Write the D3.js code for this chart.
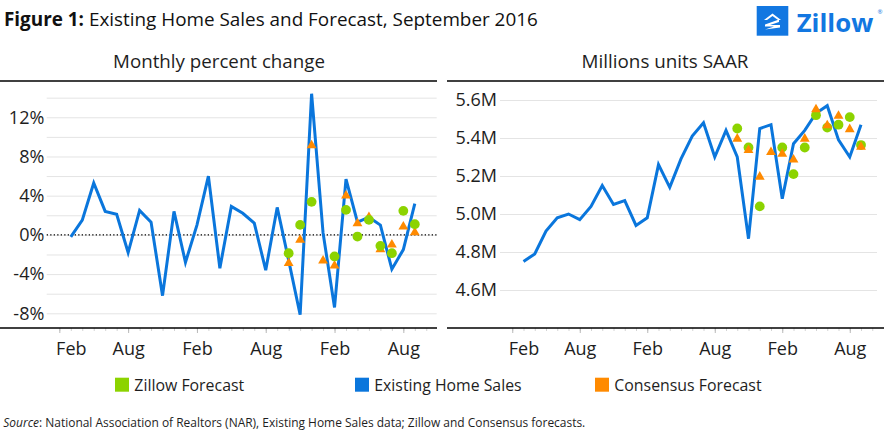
<!DOCTYPE html>
<html>
<head>
<meta charset="utf-8">
<script src="https://cdn.jsdelivr.net/npm/d3@7"></script>
<style>
  html, body { margin: 0; padding: 0; background: #fff; }
  svg { display: block; font-family: "Open Sans", sans-serif; }
</style>
</head>
<body>
<svg id="chart" width="884" height="434"></svg>
<script>
// ---------------- DATA ----------------
const monthIndex = d3.range(0, 31);           // 31 monthly observations
const tickMonths = [-1, 5, 11, 17, 23, 29];  // major tick positions (month index)
const tickLabels = ["Feb", "Aug", "Feb", "Aug", "Feb", "Aug"];

// Monthly percent change, existing home sales
const salesChange = [-0.2, 1.5, 5.3, 2.4, 2.1, -1.8, 2.5, 1.3, -6.2, 2.4, -2.8, 1.0, 6.0, -3.4, 2.9, 2.2,
  1.2, -3.6, 2.8, -2.6, -8.15, 14.4, 0.2, -7.4, 5.7, 1.3, 1.8, 1.0, -3.5, -1.5, 3.2];
// Zillow forecast of monthly percent change (months 19..30)
const zillowChange = [-1.87, 1.02, 3.37, null, -2.2, 2.55, -0.17, 1.53, -1.12, -1.87, 2.45, 1.09];
// Consensus forecast of monthly percent change (months 19..30)
const consensusChange = [-2.8, -0.44, 9.2, -2.55, -3.05, 4.08, 1.25, 1.9, -1.4, -0.92, 0.92, 0.34];

// Level, millions of units SAAR
const salesLevel = [4.75, 4.79, 4.91, 4.98, 5.00, 4.97, 5.04, 5.15, 5.05, 5.07, 4.94, 4.98, 5.26, 5.14, 5.29,
  5.41, 5.48, 5.30, 5.44, 5.30, 4.87, 5.45, 5.47, 5.08, 5.37, 5.44, 5.53, 5.57, 5.39, 5.30, 5.47];
const zillowLevel = [5.45, 5.35, 5.04, null, 5.35, 5.21, 5.35, 5.52, 5.455, 5.47, 5.51, 5.363];
const consensusLevel = [5.40, 5.34, 5.20, 5.33, 5.32, 5.29, 5.40, 5.555, 5.47, 5.52, 5.45, 5.357];
const forecastStart = 19;

const changeTicks = [-8, -4, 0, 4, 8, 12];
const levelTicks = [4.6, 4.8, 5.0, 5.2, 5.4, 5.6];

const legendItems = ["Zillow Forecast", "Existing Home Sales", "Consensus Forecast"];

// ---------------- STYLE ----------------
const BLUE = "#0a76dc", GREEN = "#8cd300", ORANGE = "#ff8a00", LOGO = "#1277e1";
const TEXT = "#1e1e1e";

const svg = d3.select("#chart");

function fitWidth(sel, w) {
  const n = sel.node();
  const cur = n.getComputedTextLength();
  const fs = parseFloat(sel.attr("font-size"));
  sel.attr("font-size", fs * w / cur);
}

// ---------------- TITLE + LOGO ----------------
const title = svg.append("text").attr("x", 4).attr("y", 26).attr("font-size", 18).attr("fill", "#111");
title.append("tspan").attr("font-weight", "bold").text("Figure 1:");
title.append("tspan").text(" Existing Home Sales and Forecast, September 2016");
fitWidth(title, 534);

const logo = svg.append("g");
logo.append("rect").attr("x", 756.7).attr("y", 6).attr("width", 31.6).attr("height", 29.7).attr("fill", LOGO);
logo.append("path")
  .attr("d", "M764,20 L772.5,13.5 L781,20 L778,20 L772.5,16 L767,20 Z M765,24.5 L779,19.5 L779,22 L770,25 L780,25 L780,27.5 L765,29.5 L774,26.5 L765,26.5 Z")
  .attr("fill", "#fff");
const ztxt = logo.append("text").attr("x", 796.7).attr("y", 31.7).attr("font-size", 30)
  .attr("font-weight", "bold").attr("fill", LOGO).text("Zillow");
fitWidth(ztxt, 76.6);
logo.append("text").attr("x", 877.5).attr("y", 14).attr("font-size", 6).attr("fill", LOGO).text("®");

// ---------------- PANEL BUILDER ----------------
function panel(cfg) {
  const g = svg.append("g");
  const x = d3.scaleLinear().domain([0, 30]).range(cfg.xRange);
  const y = d3.scaleLinear().domain(cfg.yDomain).range([328, 81]);

  // subtitle
  const st = g.append("text").attr("x", cfg.subX).attr("y", 68).attr("text-anchor", "middle")
    .attr("font-size", 18).attr("fill", TEXT).text(cfg.subtitle);
  fitWidth(st, cfg.subW);

  // gridlines
  const grid = g.append("g").attr("transform", `translate(${cfg.gridX0},0)`)
    .call(d3.axisLeft(y).tickValues(cfg.gridValues).tickSize(-(cfg.gridX1 - cfg.gridX0)).tickFormat(""));
  grid.select(".domain").remove();
  grid.selectAll("line").attr("stroke", "#e4e4e4").attr("stroke-width", 1);

  // y labels
  const ya = g.append("g").attr("transform", `translate(${cfg.gridX0},0)`)
    .call(d3.axisLeft(y).tickValues(cfg.yTicks).tickSize(0).tickPadding(cfg.yPad).tickFormat(cfg.yFormat));
  ya.select(".domain").remove();
  ya.selectAll("text").attr("font-size", 18).attr("font-family", "Open Sans").attr("fill", TEXT);

  // zero line
  if (cfg.zero) {
    g.append("line").attr("x1", cfg.gridX0).attr("x2", cfg.gridX1).attr("y1", y(0)).attr("y2", y(0))
      .attr("stroke", "#000").attr("stroke-width", 1.3).attr("stroke-dasharray", "1.3,2.2");
  }

  // minor ticks
  const minor = g.append("g").attr("transform", "translate(0,328)")
    .call(d3.axisBottom(x).tickValues(d3.range(-1, 32)).tickSize(3).tickFormat(""));
  minor.select(".domain").remove();
  minor.selectAll("line").attr("stroke", "#d4d4d4");
  // major ticks + labels
  const major = g.append("g").attr("transform", "translate(0,328)")
    .call(d3.axisBottom(x).tickValues(tickMonths).tickSize(5).tickPadding(9.2)
      .tickFormat((d, i) => tickLabels[i]));
  major.select(".domain").remove();
  major.selectAll("line").attr("stroke", "#b8b8b8");
  major.selectAll("text").attr("font-size", 18).attr("font-family", "Open Sans").attr("fill", TEXT)
    .attr("x", d => x(Math.max(d, 0)) - x(d));

  // frame lines
  g.append("line").attr("x1", cfg.frame[0]).attr("x2", cfg.frame[1]).attr("y1", 81).attr("y2", 81)
    .attr("stroke", "#000").attr("stroke-width", 1.3);
  g.append("line").attr("x1", cfg.frame[0]).attr("x2", cfg.frame[1]).attr("y1", 328).attr("y2", 328)
    .attr("stroke", "#000").attr("stroke-width", 1.6);

  // line
  g.append("path").datum(cfg.sales)
    .attr("d", d3.line().x((d, i) => x(monthIndex[i])).y(d => y(d)))
    .attr("fill", "none").attr("stroke", BLUE).attr("stroke-width", 3).attr("stroke-linejoin", "miter");

  const zData = cfg.zillow.map((v, i) => ({ i: forecastStart + i, v })).filter(d => d.v !== null);
  const cData = cfg.consensus.map((v, i) => ({ i: forecastStart + i, v })).filter(d => d.v !== null);
  const tri = d3.symbol().type(d3.symbolTriangle).size(42);

  function drawCircles() {
    g.append("g").selectAll("circle").data(zData).join("circle")
      .attr("cx", d => x(d.i)).attr("cy", d => y(d.v)).attr("r", 4.9).attr("fill", GREEN);
  }
  function drawTriangles() {
    g.append("g").selectAll("path").data(cData).join("path")
      .attr("d", tri).attr("transform", d => `translate(${x(d.i)},${y(d.v) + 0.8})`).attr("fill", ORANGE);
  }
  if (cfg.trianglesOnTop) { drawCircles(); drawTriangles(); } else { drawTriangles(); drawCircles(); }
}

panel({
  xRange: [70.8, 414.8], yDomain: [-9.5, 15.7], subtitle: "Monthly percent change", subX: 219, subW: 212,
  gridX0: 46.7, gridX1: 436.7, gridValues: d3.range(-8, 15, 2), yTicks: changeTicks, yPad: 2.4,
  yFormat: d => d + "%", zero: true, frame: [0, 437],
  sales: salesChange, zillow: zillowChange, consensus: consensusChange, trianglesOnTop: false
});
panel({
  xRange: [523.5, 861], yDomain: [4.4, 5.7], subtitle: "Millions units SAAR", subX: 665, subW: 167,
  gridX0: 500, gridX1: 877, gridValues: levelTicks, yTicks: levelTicks, yPad: 3,
  yFormat: d => d3.format(".1f")(d) + "M", zero: false, frame: [447, 884],
  sales: salesLevel, zillow: zillowLevel, consensus: consensusLevel, trianglesOnTop: true
});

// ---------------- LEGEND ----------------
const legendColors = [GREEN, BLUE, ORANGE];
const legendX = [115, 355, 595];
const legendW = [110, 147.4, 147.4];
legendItems.forEach((name, i) => {
  svg.append("rect").attr("x", legendX[i]).attr("y", 377.7).attr("width", 14).attr("height", 14)
    .attr("fill", legendColors[i]);
  const t = svg.append("text").attr("x", legendX[i] + 19.3).attr("y", 391).attr("font-size", 16)
    .attr("fill", TEXT).text(name);
  fitWidth(t, legendW[i]);
});

// ---------------- SOURCE ----------------
const src = svg.append("text").attr("x", 3.3).attr("y", 426.5).attr("font-size", 11.5).attr("fill", TEXT);
src.append("tspan").attr("font-style", "italic").text("Source");
src.append("tspan").text(": National Association of Realtors (NAR), Existing Home Sales data; Zillow and Consensus forecasts.");
fitWidth(src, 582.4);
</script>
</body>
</html>
